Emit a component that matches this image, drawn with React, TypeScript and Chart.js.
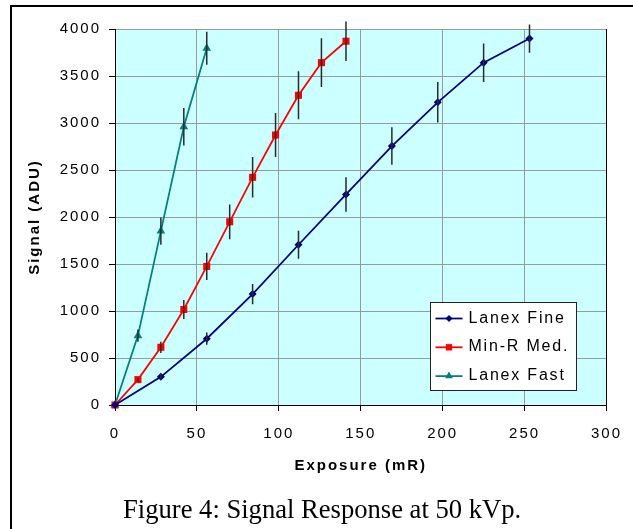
import React, { useEffect, useRef } from "react";
import { Chart, registerables } from "chart.js";

Chart.register(...registerables);

// ---- data ----
const fineX = [0, 28, 56, 84, 112, 141, 169, 197, 225, 253];
const fineY = [0, 300, 705, 1180, 1705, 2240, 2755, 3220, 3642, 3898];
const fineErr = [0, 30, 65, 108, 150, 183, 200, 215, 205, 150];

const medX = [0, 14, 28, 42, 56, 70, 84, 98, 112, 126, 141];
const medY = [0, 270, 614, 1016, 1474, 1949, 2422, 2872, 3295, 3642, 3870];
const medErr = [0, 20, 60, 100, 145, 185, 215, 235, 255, 260, 210];

const fastX = [0, 14, 28, 42, 56];
const fastY = [0, 738, 1850, 2960, 3795];
const fastErr = [0, 65, 145, 200, 175];

const seriesNames = ["Lanex Fine", "Min-R Med.", "Lanex Fast"];
const seriesColors = ["#000080", "#FF0000", "#008080"];
const seriesMarkers = ["rectRot", "rect", "triangle"];
const seriesRadius = [4, 5, 5];

const xTitle = "Exposure (mR)";
const yTitle = "Signal (ADU)";
const caption = "Figure 4: Signal Response at 50 kVp.";

const xMin = 0, xMax = 300, xStep = 50;
const yMin = 0, yMax = 4000, yStep = 500;

const SANS = "'Liberation Sans', Arial, sans-serif";
const LS = "2px";

const errs = [fineErr, medErr, fastErr];

function pts(xs: number[], ys: number[]) {
  return xs.map((x, i) => ({ x, y: ys[i] }));
}

function drawMarker(ctx: CanvasRenderingContext2D, style: string, x: number, y: number, r: number) {
  ctx.beginPath();
  if (style === "rect") {
    const s = Math.SQRT1_2 * r;
    ctx.rect(x - s, y - s, 2 * s, 2 * s);
  } else if (style === "rectRot") {
    ctx.moveTo(x, y - r);
    ctx.lineTo(x + r, y);
    ctx.lineTo(x, y + r);
    ctx.lineTo(x - r, y);
    ctx.closePath();
  } else {
    const e = (3 * r) / Math.sqrt(3);
    const h = (e * Math.sqrt(3)) / 2;
    ctx.moveTo(x, y - (2 * h) / 3);
    ctx.lineTo(x + e / 2, y + h / 3);
    ctx.lineTo(x - e / 2, y + h / 3);
    ctx.closePath();
  }
  ctx.fill();
}

const customPlugin = {
  id: "custom",
  beforeDraw(chart: any) {
    const { ctx, chartArea: a } = chart;
    ctx.save();
    ctx.fillStyle = "#CCFFFF";
    ctx.fillRect(a.left, a.top, a.right - a.left, a.bottom - a.top);
    ctx.restore();
    ctx.letterSpacing = LS;
  },
  afterDatasetsDraw(chart: any) {
    const { ctx } = chart;
    const ys = chart.scales.y;
    ctx.save();
    ctx.strokeStyle = "#2a2a2a";
    ctx.lineWidth = 1.5;
    ctx.beginPath();
    chart.data.datasets.forEach((ds: any, di: number) => {
      const meta = chart.getDatasetMeta(di);
      meta.data.forEach((el: any, i: number) => {
        const e = errs[di][i];
        if (!e) return;
        const v = ds.data[i].y;
        const x = el.x;
        ctx.moveTo(x, ys.getPixelForValue(v + e));
        ctx.lineTo(x, ys.getPixelForValue(v - e));
      });
    });
    ctx.stroke();
    ctx.restore();
  },
  afterDraw(chart: any) {
    const { ctx, chartArea: a } = chart;
    ctx.save();
    ctx.strokeStyle = "#000";
    ctx.lineWidth = 1;
    ctx.beginPath();
    ctx.moveTo(Math.round(a.right) + 0.5, a.top);
    ctx.lineTo(Math.round(a.right) + 0.5, a.bottom);
    ctx.stroke();

    // legend
    const bx = a.right - 176;
    const by = a.top + 273;
    const bw = 146;
    const bh = 88;
    ctx.fillStyle = "#fff";
    ctx.fillRect(bx, by, bw, bh);
    ctx.strokeStyle = "#222";
    ctx.lineWidth = 1;
    ctx.strokeRect(Math.round(bx) + 0.5, Math.round(by) + 0.5, bw, bh);
    ctx.letterSpacing = "1.8px";
    ctx.font = "16px " + SANS;
    ctx.textBaseline = "alphabetic";
    ctx.textAlign = "left";
    for (let i = 0; i < seriesNames.length; i++) {
      const base = by + 20.5 + i * 28.8;
      const ly = base - 4;
      ctx.strokeStyle = seriesColors[i];
      ctx.lineWidth = 1.75;
      ctx.beginPath();
      ctx.moveTo(bx + 5, ly);
      ctx.lineTo(bx + 32, ly);
      ctx.stroke();
      ctx.fillStyle = seriesColors[i];
      drawMarker(ctx, seriesMarkers[i], bx + 18.5, ly, seriesRadius[i] - 0.5);
      ctx.fillStyle = "#000";
      ctx.fillText(seriesNames[i], bx + 38, base);
    }
    ctx.restore();
    ctx.letterSpacing = "0px";
  },
};

export default function App() {
  const ref = useRef<HTMLCanvasElement>(null);

  useEffect(() => {
    if (!ref.current) return;
    const datasets = [pts(fineX, fineY), pts(medX, medY), pts(fastX, fastY)].map((d, i) => ({
      label: seriesNames[i],
      data: d,
      showLine: true,
      borderColor: seriesColors[i],
      backgroundColor: seriesColors[i],
      borderWidth: 1.75,
      pointStyle: seriesMarkers[i] as any,
      pointRadius: seriesRadius[i],
      pointBorderWidth: 0,
      pointBackgroundColor: seriesColors[i],
      tension: 0,
      clip: false as any,
    }));

    const chart = new Chart(ref.current, {
      type: "scatter",
      data: { datasets },
      options: {
        animation: false,
        responsive: false,
        devicePixelRatio: 1,
        layout: { padding: { top: 29, right: 23, left: 0, bottom: 0 } },
        plugins: {
          legend: { display: false },
          tooltip: { enabled: false },
        },
        scales: {
          x: {
            type: "linear",
            min: xMin,
            max: xMax,
            ticks: {
              stepSize: xStep,
              color: "#000",
              font: { family: SANS, size: 15 },
              padding: 14,
              maxRotation: 0,
              callback: (v: any) => String(v),
            },
            grid: { color: "#9a9a9a", tickColor: "#000", tickLength: 6, lineWidth: 1 },
            border: { color: "#000", width: 1 },
            title: {
              display: true,
              text: xTitle,
              color: "#000",
              font: { family: SANS, size: 15, weight: "bold" },
              padding: { top: 0, bottom: 54 },
            },
            afterFit(scale: any) {
              scale.height = 124;
            },
          },
          y: {
            type: "linear",
            min: yMin,
            max: yMax,
            ticks: {
              stepSize: yStep,
              color: "#000",
              font: { family: SANS, size: 15 },
              padding: 8,
              callback: (v: any) => String(v),
            },
            grid: { color: "#9a9a9a", tickColor: "#000", tickLength: 6, lineWidth: 1 },
            border: { color: "#000", width: 1 },
            title: {
              display: true,
              text: yTitle,
              color: "#000",
              font: { family: SANS, size: 15, weight: "bold" },
              padding: { top: 26, bottom: 0 },
            },
            afterFit(scale: any) {
              scale.width = 115;
            },
          },
        },
      },
      plugins: [customPlugin as any],
    });
    return () => chart.destroy();
  }, []);

  return (
    <div
      style={{
        position: "fixed",
        left: 0,
        top: 0,
        width: 633,
        height: 529,
        overflow: "hidden",
        background: "#fff",
      }}
    >
      <div
        style={{
          position: "absolute",
          left: 10,
          top: 5,
          width: 700,
          height: 600,
          borderLeft: "2px solid #000",
          borderTop: "2px solid #000",
        }}
      />
      <canvas
        ref={ref}
        width={633}
        height={529}
        style={{ position: "absolute", left: 0, top: 0, width: 633, height: 529 }}
      />
      <div
        style={{
          position: "absolute",
          left: 123,
          top: 496,
          fontFamily: "'Liberation Serif', 'Times New Roman', serif",
          fontSize: 26.6,
          lineHeight: "26px",
          whiteSpace: "nowrap",
          color: "#000",
        }}
      >
        {caption}
      </div>
    </div>
  );
}
